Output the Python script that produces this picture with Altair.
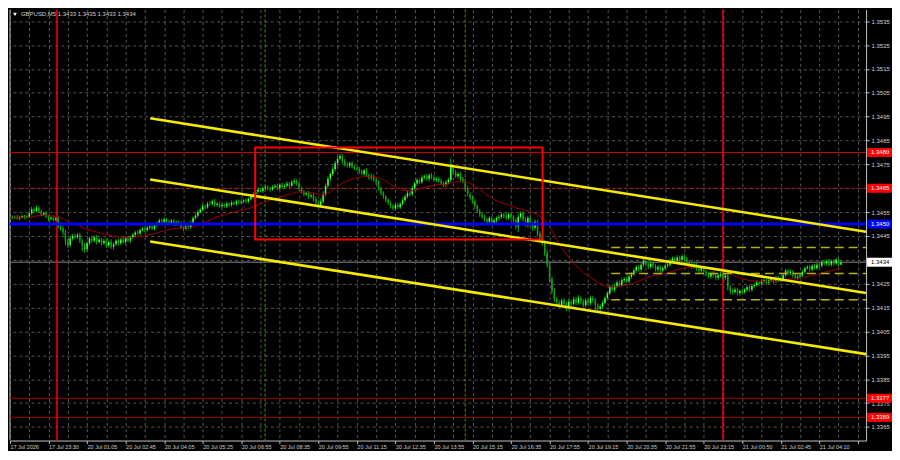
import altair as alt
import pandas as pd

BASE = 1.3400
PIP = 0.0001

# closes in pips above 1.3400, one per M5 bar
close_pips = [
    52.5, 52.8, 53.0, 52.4, 52.9, 53.3, 52.7, 53.1, 54.5, 56.2,
    55.6, 56.8, 55.4, 54.0, 54.6, 53.2, 52.1, 52.6, 51.8, 52.3,
    49.0, 48.2, 46.5, 43.0, 41.2, 44.0, 45.0, 44.5, 45.5, 43.0,
    41.0, 39.5, 42.0, 44.0, 43.0, 44.5, 42.5, 43.5, 42.0, 43.0,
    41.0, 42.5, 40.5, 41.5, 43.0, 42.0, 43.5, 42.5, 44.0, 43.0,
    44.5, 45.5, 46.5, 46.0, 47.5, 48.0, 47.5, 48.5, 49.0, 48.0,
    49.5, 50.5, 51.5, 51.0, 52.0, 51.0, 50.5, 51.5, 50.0, 50.8,
    50.2, 48.5, 48.0, 49.0, 48.5, 50.5, 52.5, 53.5, 55.0, 56.0,
    57.5, 57.0, 58.5, 58.5, 59.5, 58.0, 58.5, 57.5, 58.0, 57.5,
    58.5, 58.0, 59.0, 58.5, 59.5, 59.0, 59.5, 60.0, 59.5, 60.5,
    61.5, 62.5, 63.5, 64.5, 64.0, 65.0, 65.5, 65.0, 64.5, 65.5,
    66.0, 65.0, 66.5, 65.5, 66.0, 67.0, 66.0, 67.5, 68.0, 67.0,
    65.0, 63.5, 62.5, 63.0, 61.5, 62.0, 60.5, 59.0, 58.0, 59.5,
    62.5, 66.0, 69.0, 71.0, 73.0, 75.5, 77.5, 78.5, 76.5, 75.0,
    74.5, 75.5, 74.0, 73.5, 73.0, 72.0, 71.0, 72.5, 70.5, 69.5,
    70.0, 68.5, 67.5, 65.0, 63.0, 61.5, 60.0, 59.0, 57.5, 56.5,
    58.0, 57.0, 58.5, 60.0, 61.5, 63.0, 62.5, 65.0, 67.0, 68.5,
    67.5, 69.5, 70.0, 69.0, 70.5, 69.5, 68.5, 69.0, 68.0, 67.0,
    66.5, 67.5, 68.5, 74.0, 71.5, 70.0, 71.0, 69.0, 68.0, 65.0,
    62.5, 61.0, 59.5, 57.5, 55.5, 54.0, 53.0, 52.0, 51.0, 52.5,
    50.5, 51.5, 52.5, 53.0, 54.0, 53.5, 52.5, 54.0, 53.0, 51.5,
    49.0, 53.0, 54.5, 52.0, 50.0, 52.5, 50.0, 48.5, 51.0, 46.0,
    44.5, 42.0, 38.0, 33.0, 27.0, 22.0, 18.5, 17.0, 16.0, 18.0,
    16.5, 15.0, 17.5, 16.5, 18.5, 17.0, 19.0, 17.5, 16.0, 18.0,
    17.0, 19.0, 18.0, 16.0, 14.5, 15.5, 17.0, 19.0, 21.0, 23.5,
    22.5, 24.0, 25.5, 24.5, 26.5, 27.0, 26.0, 28.0, 29.0, 30.5,
    32.0, 31.0, 33.0, 34.5, 33.0, 32.0, 33.5, 32.5, 31.0, 32.0,
    30.5, 31.5, 32.5, 33.0, 34.5, 35.5, 34.5, 36.0, 35.0, 36.5,
    35.5, 34.0, 33.0, 32.0, 33.0, 31.5, 30.5, 31.5, 30.0, 29.0,
    28.0, 29.5, 28.5, 27.5, 28.5, 29.0, 27.5, 28.5, 23.5, 22.0,
    21.5, 22.5, 21.0, 22.0, 21.5, 22.5, 23.5, 22.5, 24.0, 24.5,
    25.5, 25.0, 26.0, 26.5, 25.5, 26.5, 27.0, 26.0, 27.5, 26.5,
    27.0, 28.5, 30.5, 29.5, 30.0, 28.5, 27.5, 28.0, 28.5, 30.0,
    31.5, 32.0, 31.0, 32.5, 31.5, 33.0, 32.5, 34.0, 33.5, 34.5,
    33.0, 34.5, 33.5, 35.0, 33.0, 34.0,
]

# upper / lower shadow lengths in pips
wick_up = [
    0.6, 0.8, 0.5, 0.9, 0.6, 0.7, 0.5, 0.8, 0.9, 1.0,
    0.8, 0.9, 0.6, 0.7, 0.5, 0.8, 0.6, 0.9, 0.5, 0.7,
    1.2, 0.8, 1.0, 1.0, 0.9, 1.2, 0.8, 1.0, 0.7, 0.9,
    0.8, 1.1, 0.9, 0.7, 1.0, 0.6, 0.9, 0.8, 0.7, 1.0,
    0.9, 0.6, 1.1, 0.8, 0.7, 0.9, 0.6, 0.8, 0.7, 0.9,
    0.6, 0.8, 0.7, 0.9, 0.6, 0.8, 0.7, 0.6, 0.9, 0.7,
    0.8, 0.6, 0.9, 0.7, 0.8, 0.6, 0.9, 0.7, 0.6, 0.8,
    0.7, 0.9, 0.6, 0.8, 0.7, 1.0, 0.8, 0.9, 1.1, 0.8,
    1.0, 0.7, 0.9, 1.2, 0.8, 1.0, 0.7, 0.9, 0.8, 0.6,
    0.8, 0.7, 0.9, 0.6, 0.8, 0.7, 0.9, 0.6, 0.8, 0.7,
    0.9, 0.8, 0.7, 1.0, 0.6, 0.8, 0.9, 0.7, 0.6, 0.8,
    0.7, 0.9, 0.6, 0.8, 0.7, 0.9, 0.6, 1.0, 1.2, 0.8,
    0.9, 0.7, 0.8, 0.6, 0.9, 0.7, 0.8, 1.0, 0.9, 1.1,
    1.2, 1.0, 1.1, 0.9, 1.2, 1.0, 1.3, 1.0, 0.9, 0.8,
    1.0, 0.7, 0.9, 0.8, 0.7, 0.9, 0.8, 0.6, 0.9, 0.7,
    1.0, 0.8, 0.7, 0.9, 0.6, 0.8, 0.7, 0.9, 0.6, 0.8,
    0.7, 0.9, 0.6, 1.0, 0.8, 0.9, 0.7, 1.1, 0.8, 0.9,
    0.7, 1.0, 0.8, 0.9, 0.7, 0.8, 1.0, 0.7, 0.9, 0.8,
    0.7, 0.9, 1.0, 3.5, 1.0, 1.2, 0.9, 0.8, 0.7, 0.9,
    0.8, 0.7, 0.9, 0.8, 0.7, 0.9, 0.6, 0.8, 0.7, 0.9,
    0.8, 1.0, 0.7, 0.9, 0.8, 0.7, 1.0, 0.8, 0.9, 0.7,
    1.0, 1.2, 0.9, 0.8, 1.0, 0.9, 0.8, 1.0, 0.9, 0.8,
    1.0, 1.2, 1.0, 1.3, 1.1, 1.0, 1.2, 0.9, 1.0, 0.8,
    1.0, 0.9, 1.1, 0.8, 1.0, 0.9, 1.2, 0.8, 1.0, 0.9,
    0.8, 1.0, 0.9, 1.1, 0.8, 0.9, 1.0, 0.8, 0.9, 1.1,
    1.0, 0.8, 0.9, 0.7, 1.0, 0.8, 0.9, 0.7, 0.8, 1.0,
    0.8, 0.9, 0.7, 1.0, 0.8, 0.7, 0.9, 0.8, 0.7, 0.9,
    0.7, 0.8, 0.9, 0.8, 1.0, 0.9, 0.8, 1.0, 0.7, 0.9,
    0.8, 0.7, 0.9, 0.8, 0.7, 0.9, 0.6, 0.8, 0.7, 0.9,
    0.8, 0.7, 0.9, 0.6, 0.8, 0.9, 0.7, 1.0, 1.2, 1.0,
    0.8, 0.9, 0.7, 0.8, 0.9, 0.7, 0.8, 0.9, 0.7, 0.8,
    0.9, 0.7, 0.8, 0.9, 0.7, 0.8, 0.6, 0.9, 0.7, 0.8,
    0.9, 1.0, 0.8, 0.7, 0.9, 0.8, 0.7, 0.9, 0.6, 0.8,
    0.7, 0.9, 0.8, 0.7, 0.9, 0.8, 0.6, 0.9, 0.7, 0.8,
    0.9, 0.7, 0.8, 0.9, 0.6, 1.0,
]
wick_dn = [
    0.7, 0.5, 0.8, 0.6, 0.9, 0.5, 0.7, 0.6, 0.5, 0.8,
    0.9, 0.6, 0.7, 0.8, 0.6, 0.7, 0.9, 0.5, 0.8, 0.6,
    0.9, 1.0, 1.2, 2.0, 1.2, 0.8, 1.0, 0.7, 0.9, 1.0,
    2.4, 1.5, 1.0, 0.8, 0.9, 0.7, 1.0, 0.8, 0.9, 0.7,
    1.0, 0.8, 0.9, 1.2, 0.7, 0.9, 0.8, 0.6, 0.9, 0.7,
    0.8, 0.6, 0.9, 0.7, 0.8, 0.6, 0.9, 0.7, 0.8, 0.6,
    0.7, 0.9, 0.6, 0.8, 0.7, 0.9, 0.6, 0.8, 0.9, 0.7,
    0.8, 0.6, 0.9, 0.7, 0.8, 0.6, 0.9, 0.7, 0.8, 0.6,
    0.7, 0.9, 0.6, 0.8, 0.7, 0.9, 0.8, 0.7, 0.9, 0.6,
    0.8, 0.7, 0.9, 0.6, 0.8, 0.7, 0.6, 0.9, 0.7, 0.8,
    0.6, 0.9, 0.7, 0.8, 0.6, 0.9, 0.7, 0.8, 0.9, 0.6,
    0.8, 0.7, 0.9, 0.6, 0.8, 0.7, 0.9, 0.6, 0.8, 0.9,
    1.0, 0.8, 0.9, 0.7, 1.0, 0.8, 1.2, 1.0, 1.1, 0.9,
    0.8, 1.0, 0.9, 1.1, 1.0, 0.9, 1.0, 0.8, 1.1, 0.9,
    0.8, 1.0, 0.7, 0.9, 0.8, 1.0, 0.7, 0.9, 0.8, 1.0,
    0.9, 0.8, 1.0, 1.1, 0.9, 1.0, 0.8, 1.0, 0.9, 0.8,
    0.9, 0.7, 0.8, 0.9, 0.7, 0.8, 0.9, 0.7, 0.8, 0.9,
    0.8, 0.7, 0.9, 0.8, 1.0, 0.7, 0.8, 0.9, 0.7, 0.8,
    0.9, 0.8, 0.7, 0.9, 1.0, 0.8, 0.9, 1.0, 0.8, 1.0,
    0.9, 1.0, 0.8, 1.1, 0.9, 1.0, 0.8, 0.9, 1.0, 0.8,
    0.9, 0.8, 1.0, 0.9, 0.8, 1.0, 0.9, 0.8, 1.0, 0.9,
    1.2, 2.5, 1.0, 0.9, 1.2, 1.5, 1.0, 1.4, 1.2, 1.0,
    1.2, 1.0, 1.4, 1.2, 1.5, 1.3, 1.2, 1.0, 1.1, 0.9,
    1.0, 1.5, 0.9, 1.1, 0.9, 1.0, 0.8, 1.1, 0.9, 1.0,
    0.8, 1.0, 0.9, 3.0, 1.5, 1.0, 0.9, 0.8, 1.0, 0.9,
    0.8, 1.0, 0.9, 0.8, 1.0, 0.9, 0.8, 1.0, 0.9, 0.8,
    0.9, 0.8, 1.0, 0.9, 0.8, 1.0, 0.7, 0.9, 0.8, 1.0,
    0.8, 0.9, 0.7, 0.8, 0.9, 0.7, 0.8, 0.9, 0.8, 0.7,
    0.9, 0.8, 1.0, 0.9, 0.8, 1.0, 0.9, 0.8, 1.0, 0.9,
    0.8, 1.0, 0.9, 0.8, 1.0, 0.9, 0.8, 0.9, 1.2, 1.5,
    1.0, 0.8, 0.9, 1.0, 0.8, 0.9, 0.7, 0.8, 0.9, 0.7,
    0.8, 0.9, 0.7, 0.8, 0.9, 0.7, 0.8, 0.9, 0.7, 0.8,
    0.7, 0.8, 0.9, 0.7, 0.8, 0.9, 0.7, 0.8, 0.9, 0.7,
    0.8, 0.7, 0.9, 0.8, 0.7, 0.9, 0.8, 0.7, 0.9, 0.8,
    0.7, 0.8, 0.9, 0.7, 0.8, 0.0,
]

time_labels = [
    "17 Jul 2026", "17 Jul 23:30", "20 Jul 01:05", "20 Jul 02:45", "20 Jul 04:05",
    "20 Jul 05:25", "20 Jul 06:55", "20 Jul 08:35", "20 Jul 09:55", "20 Jul 11:15",
    "20 Jul 12:35", "20 Jul 13:55", "20 Jul 15:15", "20 Jul 16:35", "20 Jul 17:55",
    "20 Jul 19:15", "20 Jul 20:35", "20 Jul 21:55", "20 Jul 23:15", "21 Jul 00:50",
    "21 Jul 02:45", "21 Jul 04:10",
]
price_ticks = [1.3365, 1.3375, 1.3385, 1.3395, 1.3405, 1.3415, 1.3425, 1.3435, 1.3445,
               1.3455, 1.3465, 1.3475, 1.3485, 1.3495, 1.3505, 1.3515, 1.3525, 1.3535]
hidden_tick_labels = [1.3435, 1.3465]   # covered by the price boxes
title_text = "GBPUSD,M5  1.3433 1.3435 1.3433 1.3434"

red_levels = [1.3480, 1.3377, 1.3369]
red_dotted_levels = [1.3465]
blue_levels = [1.3450]
last_price = [1.3434]
red_box_levels = [1.3480, 1.3465, 1.3377, 1.3369]

chan_i0 = [58.2, 58.2, 58.2]
chan_p0 = [1.34943, 1.34687, 1.34427]
chan_i1 = [355.4, 355.4, 355.4]
chan_p1 = [1.34468, 1.34211, 1.33955]

zone_i = [101.8, 221.1]
zone_p = [1.34435, 1.34821]

dash_i = [249.6, 355.4]
dash_p = [1.34402, 1.34293, 1.34183]

red_vlines = [19.5, 296.0]
green_vlines = [105.9, 189.0]

W, H = 858, 432
FONT = "Liberation Sans"
LABEL = "#d0d0d0"
GRID = "#565656"

# ---- build tables
c = [BASE + v * PIP for v in close_pips]
o = [c[0]] + c[:-1]
hi = [max(a, b) + u * PIP for a, b, u in zip(o, c, wick_up)]
lo = [min(a, b) - d * PIP for a, b, d in zip(o, c, wick_dn)]
# 30-period exponential moving average (the chart's indicator)
ma, e = [], c[0]
for v in c:
    e = e + (2.0 / 31.0) * (v - e)
    ma.append(e)
bars = pd.DataFrame({"i": list(range(len(c))), "o": o, "h": hi, "l": lo, "c": c, "ma": ma})

xs = alt.Scale(domain=[0, 355.4], nice=False, zero=False)
ys = alt.Scale(domain=[1.33593, 1.35399], nice=False, zero=False)

labels_js = "[" + ",".join("'%s'" % s for s in time_labels) + "]"
hide_test = " || ".join("abs(datum.value - %s) < 0.00001" % v for v in hidden_tick_labels)
x_axis = alt.Axis(
    values=list(range(0, 353, 8)),
    labelExpr=f"(datum.value % 16 === 0 && datum.value <= 336) ? {labels_js}[datum.value / 16] : ''",
    grid=True, gridColor=GRID, gridDash=[3, 3], gridWidth=1,
    domain=True, domainColor="#c0c0c0", domainWidth=1,
    tickColor={"condition": {"test": "datum.value % 16 === 0", "value": "#c0c0c0"}, "value": "transparent"},
    tickSize=3, labelColor=LABEL, labelFont=FONT, labelFontSize=5.5,
    labelAlign="left", labelBaseline="top", labelPadding=1, labelFlush=False,
    labelOverlap=False, title=None,
)
y_axis = alt.Axis(
    orient="right", values=price_ticks, format=".4f",
    labelExpr=f"({hide_test}) ? '' : format(datum.value, '.4f')",
    grid=True, gridColor=GRID, gridDash=[3, 3], gridWidth=1,
    domain=True, domainColor="#c0c0c0", domainWidth=1,
    tickColor="#c0c0c0", tickSize=3, labelColor=LABEL, labelFont=FONT, labelFontSize=6,
    labelAlign="left", labelBaseline="middle", labelPadding=2, labelOverlap=False, title=None,
)


def X(f):
    return alt.X(f, type="quantitative", scale=xs, axis=x_axis)


def Y(f):
    return alt.Y(f, type="quantitative", scale=ys, axis=y_axis)


def hlines(vals, color, width, dash=None):
    kw = dict(color=color, strokeWidth=width)
    if dash:
        kw["strokeDash"] = dash
    return alt.Chart(pd.DataFrame({"p": vals})).mark_rule(**kw).encode(y=Y("p"))


def vlines(vals, color, width, dash=None):
    kw = dict(color=color, strokeWidth=width)
    if dash:
        kw["strokeDash"] = dash
    return alt.Chart(pd.DataFrame({"i": vals})).mark_rule(**kw).encode(x=X("i"))


left_border = alt.Chart(pd.DataFrame({"k": [0]})).mark_rule(color="#c0c0c0", strokeWidth=1).encode(
    x=alt.value(0), y=alt.value(0), y2=alt.value(H))

lvl_red = hlines(red_levels[:1], "#d00000", 1)
lvl_red_low = hlines(red_levels[1:], "#9a0000", 1)
lvl_red_dot = hlines(red_dotted_levels, "#c00000", 1, [2, 2])
lvl_last = hlines(last_price, "#5a5a5a", 1.5)

v_red = vlines(red_vlines, "#ff0000", 1.5)
v_green = vlines(green_vlines, "#3c9a00", 1, [3, 2])

wicks = alt.Chart(bars).mark_rule(color="#00b400", strokeWidth=1).encode(
    x=X("i"), y=Y("l"), y2=alt.Y2("h"))
bodies = alt.Chart(bars).mark_rule(strokeWidth=1.5).encode(
    x=X("i"), y=Y("o"), y2=alt.Y2("c"),
    color=alt.condition("datum.c >= datum.o", alt.value("#46ff46"), alt.value("#12a012")))
ma_line = alt.Chart(bars).mark_line(color="#a00000", strokeWidth=1).encode(x=X("i"), y=Y("ma"))

lvl_blue = hlines(blue_levels, "#0000ff", 3)

dash_df = pd.DataFrame({"i0": [dash_i[0]] * 3, "i1": [dash_i[1]] * 3, "p": dash_p})
dashed = alt.Chart(dash_df).mark_rule(color="#b4b400", strokeWidth=1.6, strokeDash=[9, 5]).encode(
    x=X("i0"), x2=alt.X2("i1"), y=Y("p"))

chan_df = pd.DataFrame({"i0": chan_i0, "p0": chan_p0, "i1": chan_i1, "p1": chan_p1})
channel = alt.Chart(chan_df).mark_rule(color="#f5eb00", strokeWidth=2.6).encode(
    x=X("i0"), y=Y("p0"), x2=alt.X2("i1"), y2=alt.Y2("p1"))

zone_df = pd.DataFrame({"i0": [zone_i[0]], "i1": [zone_i[1]], "p0": [zone_p[0]], "p1": [zone_p[1]]})
zone = alt.Chart(zone_df).mark_rect(fillOpacity=0, stroke="#ff0000", strokeWidth=2).encode(
    x=X("i0"), x2=alt.X2("i1"), y=Y("p0"), y2=alt.Y2("p1"))


def price_box(vals, fill, txt):
    df = pd.DataFrame({"p": vals, "lab": ["%.4f" % v for v in vals]})
    box = alt.Chart(df).mark_rect(color=fill, yOffset=-4.5, y2Offset=4.5).encode(
        x=alt.value(859), x2=alt.value(884), y=Y("p"), y2=alt.Y2("p"))
    text = alt.Chart(df).mark_text(align="left", baseline="middle", font=FONT, fontSize=6, color=txt).encode(
        x=alt.value(863), y=Y("p"), text="lab:N")
    return [box, text]


title_df = pd.DataFrame({"t": [title_text]})
tri = alt.Chart(title_df).mark_point(shape="triangle-down", filled=True, color="#ffffff", size=14, opacity=1).encode(
    x=alt.value(5), y=alt.value(5))
title = alt.Chart(title_df).mark_text(align="left", baseline="middle", font=FONT, fontSize=6, color=LABEL).encode(
    x=alt.value(11), y=alt.value(5), text="t:N")

layers = [left_border, lvl_red, lvl_red_low, lvl_red_dot, lvl_last, v_red, v_green,
          wicks, bodies, ma_line, lvl_blue, dashed, channel, zone]
layers += price_box(red_box_levels, "#ff0000", "#ffffff")
layers += price_box(blue_levels, "#0000ff", "#ffffff")
layers += price_box(last_price, "#ffffff", "#000000")
layers += [tri, title]

chart = alt.layer(*layers).properties(
    width=W, height=H, padding=0, background="#000000"
).configure_view(stroke=None)

chart.save("out.html", embed_options={"renderer": "svg", "actions": False})
